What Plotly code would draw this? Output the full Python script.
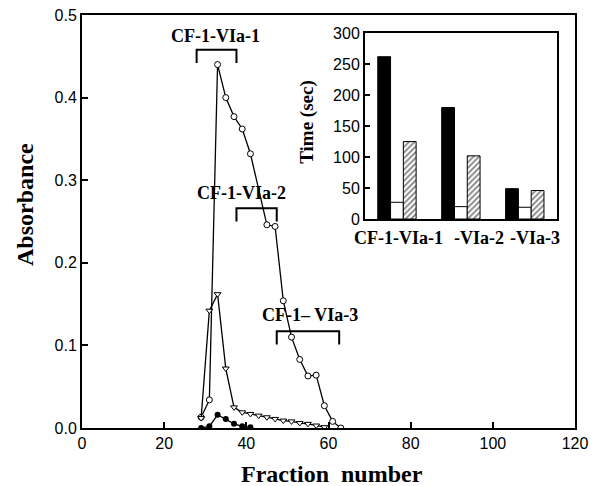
import plotly.graph_objects as go

# ---- main chromatogram data ----
frac_open = [29, 31, 33, 35, 37, 39, 41, 45, 47, 49, 51, 53, 55, 57, 59, 61, 63]
abs_open = [0.013, 0.034, 0.44, 0.40, 0.377, 0.362, 0.332, 0.246, 0.244, 0.154,
            0.110, 0.083, 0.063, 0.064, 0.027, 0.008, 0.0]

frac_tri = [29, 31, 33, 35, 37, 39, 41, 43, 45, 47, 49, 51, 53, 55, 57, 59]
abs_tri = [0.012, 0.142, 0.162, 0.072, 0.025, 0.019, 0.017, 0.015, 0.013,
           0.011, 0.009, 0.008, 0.006, 0.005, 0.003, 0.001]

frac_fill = [29, 31, 33, 35, 37, 39, 41]
abs_fill = [0.0, 0.002, 0.016, 0.011, 0.005, 0.002, 0.001]

# pooled fractions (label, start, end)
pool_labels = ["CF-1-VIa-1", "CF-1-VIa-2", "CF-1\u2013 VIa-3"]
pool_start = [27.9, 37.6, 47.4]
pool_end = [37.6, 47.4, 62.6]
pool_level = [0.458, 0.266, 0.117]
pool_label_x = [32.6, 38.9, 55.5]
pool_label_y = [0.475, 0.284, 0.137]

# ---- inset bar data ----
inset_cats = ["VIa-1", "VIa-2", "VIa-3"]
inset_labels = ["CF-1-VIa-1", "-VIa-2", "-VIa-3"]
time_black = [262, 180, 49]
time_white = [27, 20, 19]
time_hatched = [125, 102, 46]

fig = go.Figure()

line_style = dict(color="black", width=1.3)
fig.add_trace(go.Scatter(x=frac_open, y=abs_open, mode="lines+markers",
                         line=line_style,
                         marker=dict(symbol="circle", size=6, color="white",
                                     line=dict(color="black", width=1)),
                         showlegend=False))
fig.add_trace(go.Scatter(x=frac_tri, y=abs_tri, mode="lines+markers",
                         line=line_style,
                         marker=dict(symbol="triangle-down", size=6, color="white",
                                     line=dict(color="black", width=1)),
                         showlegend=False))
fig.add_trace(go.Scatter(x=frac_fill, y=abs_fill, mode="lines+markers",
                         line=line_style,
                         marker=dict(symbol="circle", size=6, color="black"),
                         showlegend=False))

# inset bars
fig.add_trace(go.Bar(x=inset_cats, y=time_black, xaxis="x2", yaxis="y2",
                     marker=dict(color="black", line=dict(color="black", width=1)),
                     showlegend=False))
fig.add_trace(go.Bar(x=inset_cats, y=time_white, xaxis="x2", yaxis="y2",
                     marker=dict(color="white", line=dict(color="black", width=1)),
                     showlegend=False))
fig.add_trace(go.Bar(x=inset_cats, y=time_hatched, xaxis="x2", yaxis="y2",
                     marker=dict(color="white",
                                 pattern=dict(shape="/", fgcolor="black", bgcolor="white",
                                              size=4, solidity=0.45),
                                 line=dict(color="black", width=1)),
                     showlegend=False))

serif = "Liberation Serif, Times New Roman, serif"
sans = "Liberation Sans, Arial, sans-serif"

shapes = []
annotations = []
for lab, s, e, lv, lx, ly in zip(pool_labels, pool_start, pool_end, pool_level,
                                 pool_label_x, pool_label_y):
    shapes.append(dict(type="path", xref="x", yref="y",
                       path=f"M {s},{lv-0.016} L {s},{lv} L {e},{lv} L {e},{lv-0.016}",
                       line=dict(color="black", width=2)))
    annotations.append(dict(x=lx, y=ly, xref="x", yref="y",
                            text=f"<b>{lab}</b>", showarrow=False,
                            font=dict(family=serif, size=18, color="black"),
                            xanchor="center", yanchor="middle"))

inset_label_x = [0.641, 0.805, 0.919]
for lab, px in zip(inset_labels, inset_label_x):
    annotations.append(dict(x=px, y=0.46, xref="paper", yref="paper",
                            text=f"<b>{lab}</b>", showarrow=False,
                            font=dict(family=serif, size=18, color="black"),
                            xanchor="center", yanchor="middle"))

# axis titles
annotations.append(dict(x=0.508, y=-0.112, xref="paper", yref="paper",
                        text="<b>Fraction  number</b>", showarrow=False,
                        font=dict(family=serif, size=24, color="black"),
                        xanchor="center", yanchor="middle"))
annotations.append(dict(x=-0.116, y=0.542, xref="paper", yref="paper",
                        text="<b>Absorbance</b>", showarrow=False, textangle=-90,
                        font=dict(family=serif, size=24, color="black"),
                        xanchor="center", yanchor="middle"))
annotations.append(dict(x=0.456, y=0.741, xref="paper", yref="paper",
                        text="<b>Time (sec)</b>", showarrow=False, textangle=-90,
                        font=dict(family=serif, size=19, color="black"),
                        xanchor="center", yanchor="middle"))

fig.update_layout(
    width=600, height=486,
    margin=dict(l=82, r=25, t=15, b=58, autoexpand=False),
    paper_bgcolor="white", plot_bgcolor="white",
    barmode="group", bargap=0.4, bargroupgap=0,
    shapes=shapes, annotations=annotations,
    xaxis=dict(range=[0, 120], dtick=20, showgrid=False, zeroline=False,
               automargin=False,
               showline=True, linecolor="black", linewidth=2, mirror=True,
               ticks="inside", ticklen=6, tickwidth=1.5, tickcolor="black",
               tickfont=dict(family=sans, size=16, color="black")),
    yaxis=dict(range=[0, 0.5], dtick=0.1, tickformat=".1f", showgrid=False,
               automargin=False,
               zeroline=False, showline=True, linecolor="black", linewidth=2,
               mirror=True, ticks="inside", ticklen=6, tickwidth=1.5,
               tickcolor="black",
               tickfont=dict(family=sans, size=16, color="black")),
    xaxis2=dict(domain=[0.574, 0.963], anchor="y2", range=[-0.5, 2.5],
                automargin=False,
                showticklabels=False, showgrid=False, zeroline=False,
                showline=True, linecolor="black", linewidth=2, mirror=True,
                ticks=""),
    yaxis2=dict(domain=[0.506, 0.956], anchor="x2", range=[0, 300], dtick=50,
                automargin=False,
                showgrid=False, zeroline=False, showline=True, linecolor="black",
                linewidth=2, mirror=True, ticks="inside", ticklen=5,
                tickwidth=1.5, tickcolor="black",
                tickfont=dict(family=sans, size=16, color="black")),
)

fig.write_html("out.html", config={"displayModeBar": False},
               post_script="document.body.style.margin='0px';"
                           "document.body.style.overflow='hidden';")
